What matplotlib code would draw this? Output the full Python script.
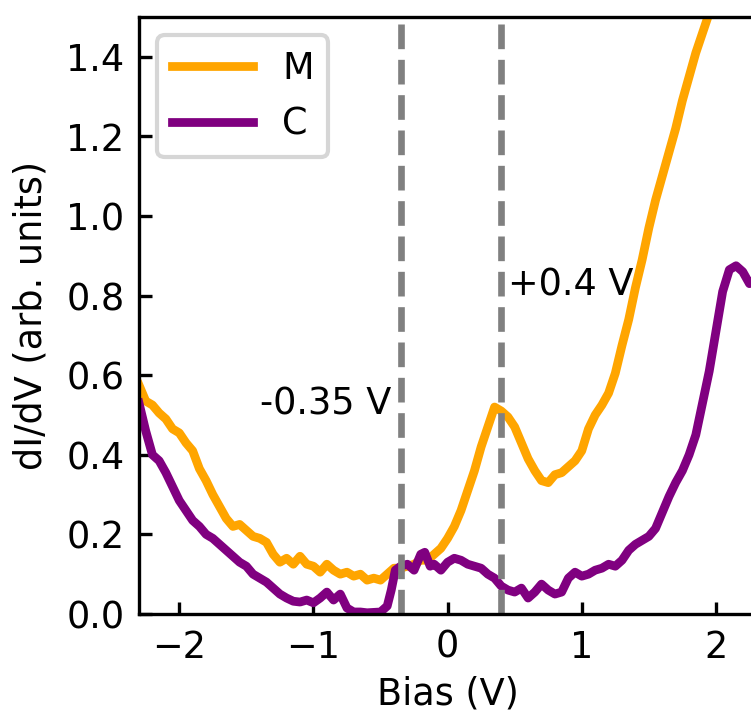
import matplotlib
matplotlib.use("Agg")
import matplotlib.pyplot as plt
import numpy as np

# ---- data ----
m_x = [-2.30, -2.25, -2.20, -2.15, -2.10, -2.05, -2.00, -1.95, -1.90, -1.85,
       -1.80, -1.75, -1.70, -1.65, -1.60, -1.55, -1.50, -1.45, -1.40, -1.35,
       -1.30, -1.25, -1.20, -1.15, -1.10, -1.05, -1.00, -0.95, -0.90, -0.85,
       -0.80, -0.75, -0.70, -0.65, -0.60, -0.55, -0.50, -0.45, -0.40, -0.35,
       -0.30, -0.25, -0.20, -0.15, -0.10, -0.05, 0.00, 0.05, 0.10, 0.15,
       0.20, 0.25, 0.30, 0.35, 0.40, 0.45, 0.50, 0.55, 0.60, 0.65,
       0.70, 0.75, 0.80, 0.85, 0.90, 0.95, 1.00, 1.05, 1.10, 1.15,
       1.20, 1.25, 1.30, 1.35, 1.40, 1.45, 1.50, 1.55, 1.60, 1.65,
       1.70, 1.75, 1.80, 1.85, 1.90, 1.95, 2.00]
m_y = [0.575, 0.535, 0.525, 0.505, 0.490, 0.465, 0.455, 0.430, 0.410, 0.365,
       0.335, 0.300, 0.270, 0.240, 0.220, 0.225, 0.210, 0.195, 0.190, 0.180,
       0.150, 0.130, 0.140, 0.125, 0.145, 0.125, 0.120, 0.105, 0.125, 0.110,
       0.100, 0.105, 0.095, 0.100, 0.085, 0.090, 0.085, 0.100, 0.115, 0.115,
       0.120, 0.125, 0.135, 0.135, 0.150, 0.165, 0.190, 0.220, 0.260, 0.310,
       0.360, 0.420, 0.470, 0.520, 0.510, 0.495, 0.470, 0.430, 0.390, 0.360,
       0.335, 0.330, 0.350, 0.355, 0.370, 0.385, 0.410, 0.465, 0.500, 0.525,
       0.555, 0.605, 0.675, 0.740, 0.820, 0.890, 0.970, 1.040, 1.100, 1.160,
       1.220, 1.290, 1.350, 1.410, 1.460, 1.510, 1.570]

c_x = [-2.30, -2.25, -2.20, -2.15, -2.10, -2.05, -2.00, -1.95, -1.90, -1.85,
       -1.80, -1.75, -1.70, -1.65, -1.60, -1.55, -1.50, -1.45, -1.40, -1.35,
       -1.30, -1.25, -1.20, -1.15, -1.10, -1.05, -1.00, -0.95, -0.90, -0.85,
       -0.80, -0.75, -0.70, -0.65, -0.60, -0.55, -0.50, -0.45, -0.42, -0.39,
       -0.35, -0.30, -0.25, -0.20, -0.17, -0.13, -0.10, -0.05, 0.00, 0.05,
       0.10, 0.15, 0.20, 0.25, 0.30, 0.35, 0.40, 0.45, 0.50, 0.55,
       0.60, 0.65, 0.70, 0.75, 0.80, 0.85, 0.90, 0.95, 1.00, 1.05,
       1.10, 1.15, 1.20, 1.25, 1.30, 1.35, 1.40, 1.45, 1.50, 1.55,
       1.60, 1.65, 1.70, 1.75, 1.80, 1.85, 1.90, 1.95, 2.00, 2.05,
       2.10, 2.15, 2.20, 2.25, 2.30]
c_y = [0.530, 0.460, 0.400, 0.385, 0.355, 0.320, 0.285, 0.260, 0.235, 0.220,
       0.200, 0.190, 0.175, 0.160, 0.145, 0.130, 0.120, 0.100, 0.090, 0.080,
       0.065, 0.050, 0.040, 0.032, 0.030, 0.035, 0.028, 0.040, 0.055, 0.035,
       0.050, 0.015, 0.005, 0.005, 0.003, 0.004, 0.005, 0.020, 0.060, 0.110,
       0.120, 0.125, 0.110, 0.150, 0.155, 0.120, 0.125, 0.110, 0.130, 0.140,
       0.135, 0.125, 0.120, 0.115, 0.100, 0.090, 0.070, 0.060, 0.055, 0.065,
       0.040, 0.055, 0.075, 0.060, 0.050, 0.055, 0.090, 0.105, 0.095, 0.100,
       0.110, 0.115, 0.125, 0.120, 0.135, 0.160, 0.175, 0.185, 0.195, 0.215,
       0.255, 0.295, 0.330, 0.360, 0.400, 0.450, 0.530, 0.610, 0.710, 0.810,
       0.865, 0.875, 0.860, 0.830, 0.840]

vlines = [-0.35, 0.4]
annotations = [(-1.4, 0.5, "-0.35 V"), (0.45, 0.8, "+0.4 V")]

# ---- figure ----
plt.rcParams['font.family'] = ['DejaVu Sans']
plt.rcParams['font.size'] = 8.8

fig = plt.figure(figsize=(751 / 300, 715 / 300), dpi=300)
ax = fig.add_axes([0.1851, 0.1413, 0.8218, 0.8349])

ax.plot(m_x, m_y, color='orange', lw=2.1, label='M')
ax.plot(c_x, c_y, color='purple', lw=2.1, label='C')
for v in vlines:
    ax.axvline(v, color='gray', ls='--', lw=1.6)
for x, y, t in annotations:
    ax.text(x, y, t)

ax.set_xlim(-2.3, 2.3)
ax.set_ylim(0, 1.5)
ax.set_xticks([-2, -1, 0, 1, 2])
ax.set_yticks([0.0, 0.2, 0.4, 0.6, 0.8, 1.0, 1.2, 1.4])
ax.tick_params(direction='in', length=3.0, width=0.8)
ax.set_xlabel('Bias (V)', labelpad=2.5)
ax.set_ylabel('dI/dV (arb. units)')
ax.legend(loc='upper left', handlelength=2.2)

fig.savefig('out.png', dpi=300)
